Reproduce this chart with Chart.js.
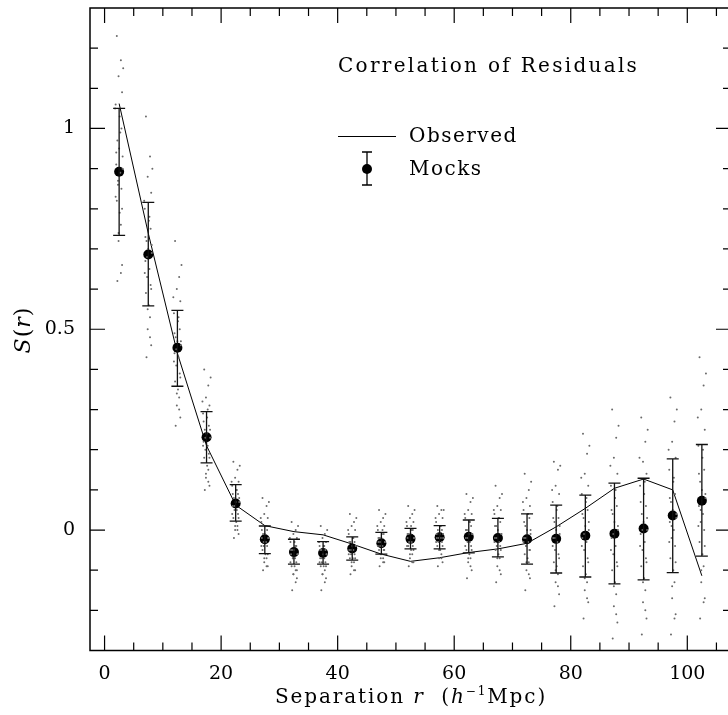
<!DOCTYPE html>
<html>
<head>
<meta charset="utf-8">
<script src="https://cdn.jsdelivr.net/npm/chart.js@4/dist/chart.umd.min.js"></script>
<style>
html,body{margin:0;padding:0;background:#fff;overflow:hidden}
#wrap{position:relative;width:736px;height:715px}
</style>
</head>
<body>
<div id="wrap"><canvas id="c"></canvas></div>
<script>
// separation bins (h^-1 Mpc)
const rBins = [2.5,7.5,12.5,17.5,22.5,27.5,32.5,37.5,42.5,47.5,52.5,57.5,62.5,67.5,72.5,77.5,82.5,87.5,92.5,97.5,102.5];
const observed = [1.062,0.739,0.44,0.21,0.062,0.011,-0.004,-0.012,-0.035,-0.060,-0.078,-0.069,-0.056,-0.047,-0.033,0.008,0.054,0.104,0.127,0.100,-0.114];
const mockMean = [0.892,0.686,0.454,0.231,0.066,-0.023,-0.055,-0.057,-0.046,-0.033,-0.022,-0.018,-0.017,-0.020,-0.023,-0.022,-0.014,-0.009,0.004,0.036,0.073];
const mockHi = [1.050,0.816,0.547,0.295,0.113,0.010,-0.023,-0.029,-0.017,-0.006,0.004,0.011,0.025,0.029,0.040,0.062,0.087,0.117,0.129,0.177,0.213];
const mockLo = [0.734,0.558,0.358,0.167,0.022,-0.059,-0.085,-0.085,-0.075,-0.060,-0.047,-0.047,-0.057,-0.067,-0.085,-0.107,-0.117,-0.134,-0.124,-0.106,-0.065];

// individual mock realisations
const mockJitter = [-0.4,0.3,-0.1,0.5,-0.6,0.1,0.4,-0.3,0.0,0.6,-0.5,0.2,-0.2,0.4,-0.4,0.1,0.3,-0.1,0.5,-0.3,0.7,-0.7,0.2,-0.5,0.6,-0.2,-0.6,0.5,-0.1,0.3];
const mockClouds = [
  [1.23,1.17,1.13,1.09,1.06,1.03,1.00,0.97,0.95,0.93,0.91,0.89,0.87,0.85,0.82,0.79,0.76,0.72,0.66,0.62,1.15,1.05,0.99,0.94,0.90,0.86,0.83,0.80,0.74,0.64],
  [1.03,0.93,0.88,0.84,0.80,0.77,0.75,0.72,0.70,0.69,0.67,0.65,0.63,0.61,0.59,0.56,0.53,0.50,0.46,0.43,0.90,0.82,0.78,0.73,0.71,0.68,0.64,0.60,0.55,0.48],
  [0.72,0.63,0.60,0.57,0.54,0.52,0.50,0.48,0.47,0.46,0.44,0.43,0.41,0.39,0.37,0.35,0.33,0.31,0.28,0.26,0.66,0.58,0.53,0.49,0.47,0.45,0.42,0.38,0.34,0.30],
  [0.40,0.36,0.33,0.31,0.29,0.28,0.26,0.25,0.24,0.23,0.22,0.21,0.20,0.19,0.18,0.16,0.15,0.13,0.11,0.10,0.38,0.32,0.30,0.27,0.25,0.23,0.21,0.18,0.14,0.12],
  [0.17,0.15,0.13,0.12,0.11,0.10,0.09,0.08,0.07,0.07,0.06,0.05,0.05,0.04,0.03,0.02,0.01,0.00,-0.01,-0.02,0.16,0.12,0.10,0.09,0.08,0.06,0.04,0.03,0.01,0.00],
  [0.08,0.06,0.04,0.03,0.02,0.01,0.00,-0.01,-0.01,-0.02,-0.02,-0.03,-0.04,-0.04,-0.05,-0.06,-0.07,-0.08,-0.09,-0.10,0.07,0.03,0.01,0.00,-0.02,-0.03,-0.04,-0.06,-0.07,-0.09],
  [0.02,0.00,-0.01,-0.02,-0.03,-0.03,-0.04,-0.05,-0.05,-0.06,-0.06,-0.07,-0.07,-0.08,-0.09,-0.09,-0.10,-0.11,-0.12,-0.15,0.01,-0.02,-0.04,-0.05,-0.06,-0.07,-0.08,-0.10,-0.11,-0.13],
  [0.01,-0.01,-0.02,-0.03,-0.04,-0.04,-0.05,-0.05,-0.06,-0.06,-0.07,-0.07,-0.08,-0.08,-0.09,-0.09,-0.10,-0.11,-0.12,-0.15,0.00,-0.03,-0.04,-0.05,-0.06,-0.07,-0.08,-0.09,-0.11,-0.13],
  [0.04,0.02,0.01,0.00,-0.01,-0.02,-0.03,-0.03,-0.04,-0.04,-0.05,-0.05,-0.06,-0.06,-0.07,-0.07,-0.08,-0.09,-0.10,-0.11,0.03,0.00,-0.02,-0.03,-0.04,-0.05,-0.06,-0.07,-0.08,-0.10],
  [0.05,0.03,0.02,0.01,0.00,-0.01,-0.01,-0.02,-0.02,-0.03,-0.03,-0.04,-0.04,-0.05,-0.05,-0.06,-0.07,-0.07,-0.08,-0.09,0.04,0.01,0.00,-0.02,-0.03,-0.03,-0.04,-0.05,-0.06,-0.08],
  [0.06,0.04,0.03,0.02,0.01,0.01,0.00,-0.01,-0.01,-0.02,-0.02,-0.03,-0.03,-0.04,-0.04,-0.05,-0.06,-0.07,-0.08,-0.09,0.05,0.02,0.00,-0.01,-0.02,-0.03,-0.04,-0.05,-0.06,-0.08],
  [0.06,0.05,0.04,0.03,0.02,0.01,0.00,0.00,-0.01,-0.01,-0.02,-0.02,-0.03,-0.03,-0.04,-0.05,-0.06,-0.07,-0.08,-0.09,0.05,0.03,0.01,-0.01,-0.02,-0.02,-0.03,-0.04,-0.05,-0.07],
  [0.09,0.07,0.05,0.04,0.03,0.02,0.01,0.00,-0.01,-0.01,-0.02,-0.03,-0.03,-0.04,-0.05,-0.06,-0.07,-0.08,-0.10,-0.12,0.08,0.04,0.02,0.00,-0.01,-0.02,-0.04,-0.05,-0.07,-0.09],
  [0.11,0.08,0.06,0.05,0.04,0.03,0.02,0.01,0.00,-0.01,-0.02,-0.03,-0.04,-0.04,-0.05,-0.06,-0.07,-0.09,-0.11,-0.13,0.09,0.05,0.03,0.01,-0.01,-0.02,-0.03,-0.05,-0.07,-0.10],
  [0.14,0.10,0.08,0.06,0.05,0.04,0.03,0.01,0.00,-0.01,-0.02,-0.03,-0.04,-0.05,-0.06,-0.07,-0.08,-0.10,-0.12,-0.15,0.12,0.07,0.04,0.02,0.00,-0.02,-0.03,-0.05,-0.08,-0.11],
  [0.17,0.15,0.11,0.09,0.07,0.05,0.03,0.02,0.00,-0.01,-0.02,-0.03,-0.05,-0.06,-0.08,-0.09,-0.11,-0.13,-0.16,-0.19,0.16,0.10,0.06,0.03,0.01,-0.02,-0.04,-0.07,-0.10,-0.14],
  [0.24,0.19,0.14,0.11,0.09,0.07,0.05,0.03,0.01,0.00,-0.02,-0.03,-0.05,-0.07,-0.09,-0.11,-0.13,-0.15,-0.18,-0.22,0.21,0.13,0.08,0.04,0.02,-0.01,-0.04,-0.08,-0.12,-0.17],
  [0.30,0.23,0.18,0.14,0.11,0.08,0.06,0.04,0.02,0.00,-0.02,-0.04,-0.06,-0.08,-0.10,-0.13,-0.16,-0.19,-0.23,-0.27,0.26,0.16,0.10,0.05,0.01,-0.01,-0.05,-0.09,-0.14,-0.21],
  [0.28,0.22,0.17,0.14,0.11,0.09,0.06,0.04,0.02,0.00,-0.01,-0.03,-0.05,-0.07,-0.09,-0.12,-0.15,-0.18,-0.22,-0.26,0.25,0.18,0.12,0.07,0.03,0.00,-0.04,-0.08,-0.13,-0.20],
  [0.33,0.27,0.22,0.18,0.15,0.12,0.09,0.07,0.05,0.03,0.02,0.00,-0.02,-0.04,-0.07,-0.10,-0.13,-0.17,-0.21,-0.26,0.30,0.20,0.13,0.08,0.04,0.01,-0.03,-0.08,-0.14,-0.22],
  [0.43,0.36,0.30,0.25,0.21,0.18,0.15,0.12,0.10,0.08,0.06,0.04,0.02,0.00,-0.03,-0.06,-0.09,-0.13,-0.17,-0.22,0.39,0.28,0.20,0.14,0.09,0.05,0.01,-0.04,-0.10,-0.18]
];

const xLabelTicks = [0,20,40,60,80,100];
const yLabelTicks = [0,0.5,1];
const xMinorTicks = [0,5,10,15,20,25,30,35,40,45,50,55,60,65,70,75,80,85,90,95,100,105];
const yMinorTicks = [-0.2,-0.1,0,0.1,0.2,0.3,0.4,0.5,0.6,0.7,0.8,0.9,1,1.1,1.2];

const SERIF = '"DejaVu Serif", serif';

const cloudPts = [];
mockClouds.forEach((vals, i) => {
  vals.forEach((v, j) => cloudPts.push({ x: rBins[i] + mockJitter[j], y: v }));
});

function richText(ctx, parts, x, y, align) {
  let w = 0;
  parts.forEach(p => { ctx.font = p.font; w += ctx.measureText(p.text).width; });
  let cx = align === 'center' ? x - w / 2 : x;
  parts.forEach(p => {
    ctx.font = p.font;
    ctx.fillText(p.text, cx, y + (p.dy || 0));
    cx += ctx.measureText(p.text).width;
  });
}

const decor = {
  id: 'decor',
  afterDatasetsDraw(chart) {
    const { ctx, chartArea: a, scales: { x, y } } = chart;
    ctx.save();
    // error bars
    ctx.strokeStyle = '#111';
    ctx.lineWidth = 1.3;
    rBins.forEach((r, i) => {
      const px = x.getPixelForValue(r);
      const t = y.getPixelForValue(mockHi[i]);
      const b = y.getPixelForValue(mockLo[i]);
      ctx.beginPath();
      ctx.moveTo(px, t); ctx.lineTo(px, b);
      ctx.moveTo(px - 6, t); ctx.lineTo(px + 6, t);
      ctx.moveTo(px - 6, b); ctx.lineTo(px + 6, b);
      ctx.stroke();
    });

    // frame + inward ticks
    ctx.strokeStyle = '#000';
    ctx.lineWidth = 1.5;
    ctx.strokeRect(a.left, a.top, a.right - a.left, a.bottom - a.top);
    ctx.lineWidth = 1.2;
    ctx.beginPath();
    xMinorTicks.forEach(v => {
      const px = x.getPixelForValue(v);
      const len = v % 20 === 0 ? 15 : 8;
      ctx.moveTo(px, a.bottom); ctx.lineTo(px, a.bottom - len);
      ctx.moveTo(px, a.top); ctx.lineTo(px, a.top + len);
    });
    yMinorTicks.forEach(v => {
      const py = y.getPixelForValue(v);
      const len = yLabelTicks.includes(v) ? 15 : 8;
      ctx.moveTo(a.left, py); ctx.lineTo(a.left + len, py);
      ctx.moveTo(a.right, py); ctx.lineTo(a.right - len, py);
    });
    ctx.stroke();

    // in-plot title and legend
    ctx.fillStyle = '#000';
    ctx.textBaseline = 'middle';
    ctx.textAlign = 'left';
    ctx.font = '20px ' + SERIF;
    ctx.letterSpacing = '2.3px';
    ctx.fillText('Correlation of Residuals', 338, 67);
    ctx.letterSpacing = '1.5px';
    ctx.fillText('Observed', 409, 137);
    ctx.fillText('Mocks', 409, 170);
    ctx.letterSpacing = '0px';
    ctx.lineWidth = 1;
    ctx.beginPath();
    ctx.moveTo(338, 136.5); ctx.lineTo(396, 136.5);
    ctx.stroke();
    ctx.lineWidth = 1.3;
    ctx.beginPath();
    ctx.moveTo(367, 152); ctx.lineTo(367, 185);
    ctx.moveTo(362, 152); ctx.lineTo(372, 152);
    ctx.moveTo(362, 185); ctx.lineTo(372, 185);
    ctx.stroke();
    ctx.beginPath();
    ctx.arc(367, 169, 5, 0, Math.PI * 2);
    ctx.fill();

    // axis titles
    ctx.letterSpacing = '1.9px';
    const reg = '20px ' + SERIF, it = 'italic 20px ' + SERIF, sup = '12px ' + SERIF;
    richText(ctx, [
      { text: 'Separation ', font: reg },
      { text: 'r', font: it },
      { text: '  (', font: reg },
      { text: 'h', font: it },
      { text: '\u22121', font: sup, dy: -6 },
      { text: 'Mpc)', font: reg }
    ], 411, 698, 'center');
    ctx.letterSpacing = '1px';
    ctx.translate(24, 330);
    ctx.rotate(-Math.PI / 2);
    richText(ctx, [
      { text: 'S', font: 'italic 22px ' + SERIF },
      { text: '(', font: '22px ' + SERIF },
      { text: 'r', font: 'italic 22px ' + SERIF },
      { text: ')', font: '22px ' + SERIF }
    ], 0, 0, 'center');
    ctx.restore();
  }
};

new Chart(document.getElementById('c'), {
  data: {
    datasets: [
      {
        type: 'scatter',
        data: cloudPts,
        pointRadius: 1,
        pointBackgroundColor: '#6a6a6a',
        pointBorderWidth: 0
      },
      {
        type: 'line',
        data: rBins.map((r, i) => ({ x: r, y: observed[i] })),
        borderColor: '#000',
        borderWidth: 1,
        pointRadius: 0,
        tension: 0,
        fill: false
      },
      {
        type: 'scatter',
        data: rBins.map((r, i) => ({ x: r, y: mockMean[i] })),
        pointRadius: 5,
        pointBackgroundColor: '#000',
        pointBorderWidth: 0
      }
    ]
  },
  options: {
    responsive: true,
    maintainAspectRatio: false,
    animation: false,
    layout: { padding: { top: 8, right: 4, left: 0, bottom: 0 } },
    plugins: { legend: { display: false }, tooltip: { enabled: false } },
    scales: {
      x: {
        type: 'linear', min: -2.5, max: 107.5,
        grid: { display: false, drawTicks: false },
        border: { display: false },
        afterBuildTicks: s => { s.ticks = xLabelTicks.map(v => ({ value: v })); },
        afterFit: s => { s.height = 64.5; s.paddingLeft = 0; s.paddingRight = 0; },
        ticks: { color: '#000', font: { family: SERIF, size: 19 }, padding: 12, maxRotation: 0, callback: v => String(v) }
      },
      y: {
        type: 'linear', min: -0.3, max: 1.3,
        grid: { display: false, drawTicks: false },
        border: { display: false },
        afterBuildTicks: s => { s.ticks = yLabelTicks.map(v => ({ value: v })); },
        afterFit: s => { s.width = 90; s.paddingTop = 0; s.paddingBottom = 0; },
        ticks: { color: '#000', font: { family: SERIF, size: 19 }, padding: 15, callback: v => String(v) }
      }
    }
  },
  plugins: [decor]
});
</script>
</body>
</html>
